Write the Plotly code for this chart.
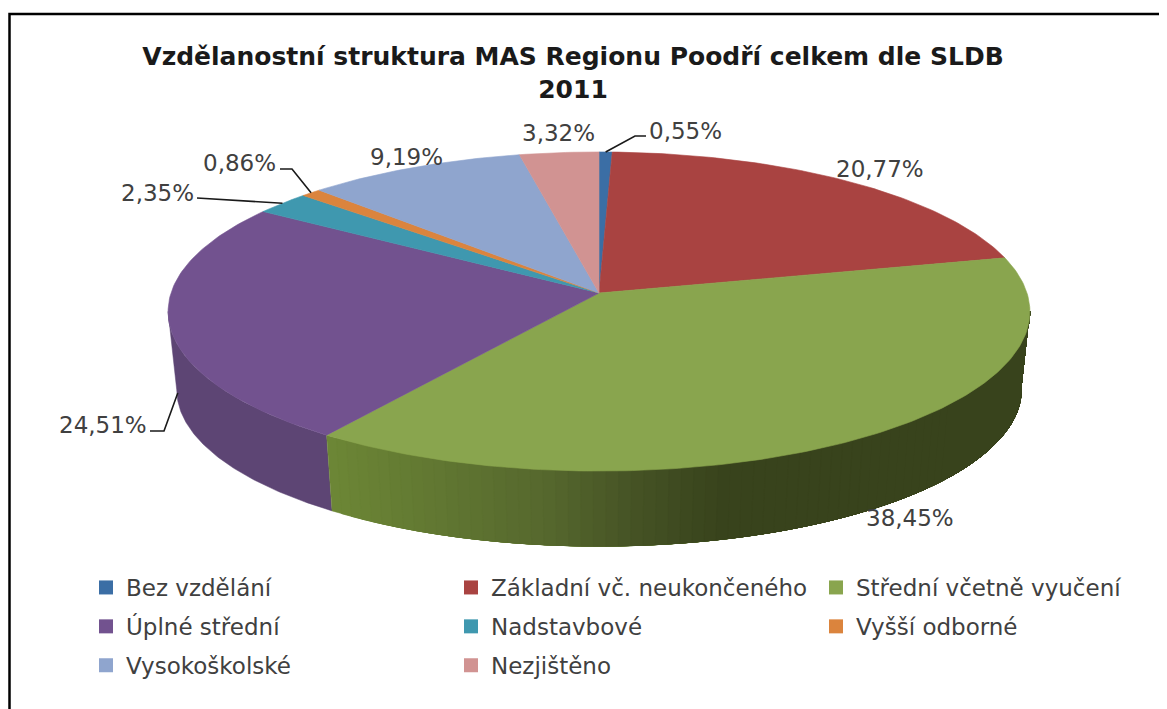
import numpy as np
import plotly.graph_objects as go

categories = ["Bez vzdělání", "Základní vč. neukončeného", "Střední včetně vyučení",
              "Úplné střední", "Nadstavbové", "Vyšší odborné", "Vysokoškolské", "Nezjištěno"]
shares = [0.55, 20.77, 38.45, 24.51, 2.35, 0.86, 9.19, 3.32]
colors = ["#3B6EA5", "#A94341", "#89A54E", "#72528F", "#3F98AF", "#DB843D", "#8FA5CE", "#D19392"]
title_text = "Vzdělanostní struktura MAS Regionu Poodří celkem dle SLDB<br>2011"

# The page has an 8 px body margin: axes run in page pixels, the plot starts at 8,8
PAGE_W, PAGE_H, OFF = 1167, 709, 8
W, H = PAGE_W - OFF, PAGE_H - OFF


def px(x):
    return (x - OFF) / W


def py(y):
    return 1 - (y - OFF) / H


# Projection of the tilted disc onto the pixel-sized axes
CX, CY, BX, BY, K = 599.0, 293.0, 428.0, 157.4, 0.116
BOTTOM_SCALE, BOTTOM_SHIFT = 0.98, 78.6
WALL_START = float(np.degrees(np.arccos(-K)))   # outline tangent on the right
WALL_END = 360 - WALL_START                     # outline tangent on the left


def project(theta_deg, bottom=False):
    t = np.radians(np.asarray(theta_deg, dtype=float))
    u, v = np.sin(t), np.cos(t)
    s = 1 / (1 + K * v)
    x, y = BX * u * s, -BY * v * s
    if bottom:
        return CX + BOTTOM_SCALE * x, CY + BOTTOM_SCALE * y + BOTTOM_SHIFT
    return CX + x, CY + y


def rgb(h):
    return np.array([int(h[i:i + 2], 16) for i in (1, 3, 5)], dtype=float)


edges = np.concatenate([[0], np.cumsum(shares)]) / sum(shares) * 360
fig = go.Figure()


def wall(a0, a1, col):
    th = np.linspace(a0, a1, max(3, int((a1 - a0) * 2)))
    xt, yt = project(th)
    xb, yb = project(th, bottom=True)
    fig.add_trace(go.Scatter(x=np.r_[xt, xb[::-1]], y=np.r_[yt, yb[::-1]], mode="lines",
                             fill="toself", fillcolor=col, line=dict(color=col, width=0.5),
                             showlegend=False, hoverinfo="skip"))


# Side wall: purple flat, green shaded by painting shrinking spans over each other
green_x = [330, 540, 640, 720, 1040]
green_c = [rgb(c) for c in ["#6C8636", "#56682E", "#445124", "#38431C", "#38431C"]]
wall(edges[3], WALL_END, "#5D4574")
for a in np.arange(edges[3], 130, -1.5):
    ax_x = float(project(a)[0])
    c = [np.interp(ax_x, green_x, [g[k] for g in green_c]) for k in range(3)]
    wall(WALL_START, a, "rgb(%d,%d,%d)" % tuple(c))

# Top surface
for i, name in enumerate(categories):
    th = np.linspace(edges[i], edges[i + 1], max(3, int(shares[i] * 4)))
    xt, yt = project(th)
    fig.add_trace(go.Scatter(x=np.r_[CX, xt, CX], y=np.r_[CY, yt, CY], mode="lines",
                             fill="toself", fillcolor=colors[i],
                             line=dict(color=colors[i], width=0.6),
                             name=name, showlegend=False, hoverinfo="name"))

# Data labels: text centre and leader elbow offsets are layout, anchored at each wedge's middle
label_pos = [(685, 131), (880, 169), (910, 518), (103, 425), (157, 193), (239, 163), (406, 157), (558, 133)]
leader_path = {0: [(635, 136), (646, 136)], 3: [(164, 431), (150, 431)], 4: [(197, 198)],
               5: [(292, 169), (280, 169)]}
for i, v in enumerate(shares):
    fig.add_annotation(x=label_pos[i][0], y=label_pos[i][1], text=f"{v:.2f}".replace(".", ",") + "%",
                       showarrow=False, font=dict(family="DejaVu Sans", size=23, color="#404040"))
    if i in leader_path:
        mid = (edges[i] + edges[i + 1]) / 2
        ax, ay = project(mid, bottom=(i == 3))
        pts = [(float(ax), float(ay) - (8 if i == 3 else 0))] + leader_path[i]
        fig.add_trace(go.Scatter(x=[p[0] for p in pts], y=[p[1] for p in pts], mode="lines",
                                 line=dict(color="#1A1A1A", width=1.6), showlegend=False,
                                 hoverinfo="skip"))

# Legend: three columns; each entry is its own group so the row gap can follow the picture
legend_names = ["legend", "legend2", "legend3", "legend", "legend2", "legend3", "legend", "legend2"]
for i, name in enumerate(categories):
    fig.add_trace(go.Scatter(x=[None], y=[None], mode="markers", name=name,
                             legendgroup=name,
                             marker=dict(symbol="square", size=14, color=colors[i]),
                             legend=legend_names[i]))

leg = dict(orientation="v", xanchor="left", yanchor="top", y=py(566), tracegroupgap=6,
           bgcolor="rgba(0,0,0,0)", itemclick=False, itemdoubleclick=False,
           font=dict(family="DejaVu Sans", size=23, color="#404040"))

fig.update_layout(
    width=W, height=H, margin=dict(l=0, r=0, t=0, b=0),
    paper_bgcolor="white", plot_bgcolor="white",
    xaxis=dict(range=[OFF, PAGE_W], visible=False, fixedrange=True),
    yaxis=dict(range=[PAGE_H, OFF], visible=False, fixedrange=True),
    title=dict(text=title_text, x=px(573), xanchor="center", y=py(65), yanchor="middle",
               font=dict(family="DejaVu Sans", size=25, weight="bold", color="#1A1A1A")),
    legend=dict(leg, x=px(86)),
    legend2=dict(leg, x=px(451)),
    legend3=dict(leg, x=px(816)),
    shapes=[dict(type="path", xref="x", yref="y", path="M 9.5 709 L 9.5 14 L 1167 14",
                 line=dict(color="#000000", width=2.5))],
)

fig.write_html("out.html")
